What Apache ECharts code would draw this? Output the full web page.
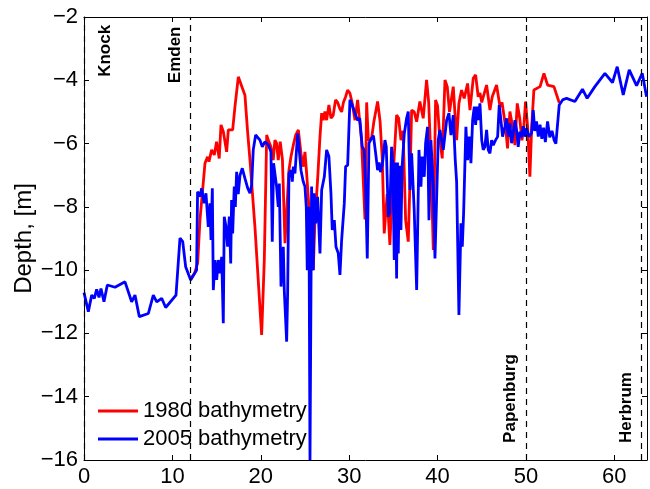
<!DOCTYPE html>
<html>
<head>
<meta charset="utf-8">
<script src="https://cdn.jsdelivr.net/npm/echarts@6/dist/echarts.min.js"></script>
<style>html,body{margin:0;padding:0;background:#fff;}#c{width:650px;height:489px;}</style>
</head>
<body>
<div id="c"></div>
<script>
// distance along river [km] and depth [m]
var dist1980 = [12.0,12.5,12.86,13.12,13.69,13.98,14.14,14.44,14.74,15.0,15.3,15.5,15.76,16.14,16.33,16.82,17.08,17.46,17.65,18.21,18.51,18.78,19.34,20.1,20.4,20.67,20.85,21.15,21.41,21.6,21.79,21.98,22.2,22.45,22.74,23.0,23.19,23.42,23.68,23.95,24.25,24.55,24.8,25.0,25.19,25.4,25.68,25.94,26.13,26.43,26.7,26.89,27.07,27.26,27.45,27.71,27.95,28.2,28.46,28.7,28.95,29.15,29.35,29.6,29.83,30.09,30.35,30.66,30.96,31.14,31.4,31.79,31.98,32.17,32.54,32.8,33.22,33.5,33.75,33.97,34.3,34.61,34.85,35.37,35.6,35.86,36.1,36.39,36.69,36.88,37.07,37.36,37.64,38.0,38.38,38.76,39.0,39.25,39.52,39.78,40.0,40.27,40.53,40.84,41.1,41.35,41.78,42.05,42.16,42.42,42.72,43.02,43.4,43.67,44.04,44.31,44.6,44.8,45.0,45.2,45.55,45.93,46.19,46.68,47.06,47.3,47.7,47.92,48.19,48.45,48.76,49.02,49.3,49.55,49.75,49.96,50.2,50.45,50.65,50.9,51.6,52.04,52.45,53.17,53.77];
var depth1980 = [-10.3,-10.1,-9.78,-8.42,-6.62,-6.42,-6.57,-6.2,-6.36,-5.94,-6.47,-5.41,-5.62,-6.26,-5.57,-5.57,-4.83,-3.89,-3.83,-4.47,-5.62,-6.52,-8.63,-12.05,-9.68,-5.73,-5.89,-6.1,-6.52,-5.89,-5.99,-6.52,-5.94,-6.5,-9.15,-7.8,-6.84,-6.41,-6.05,-5.73,-5.57,-6.31,-6.73,-6.26,-6.94,-7.8,-9.68,-10.0,-8.42,-7.15,-5.78,-5.04,-5.26,-4.99,-5.26,-4.78,-5.2,-5.1,-4.62,-4.7,-4.9,-5.0,-4.7,-4.52,-4.31,-4.41,-4.73,-5.26,-4.62,-4.57,-5.89,-8.4,-4.7,-5.9,-5.83,-5.3,-4.67,-5.3,-6.5,-8.84,-7.6,-9.2,-7.6,-5.1,-5.2,-5.89,-5.6,-8.42,-9.1,-7.2,-4.94,-5.0,-5.31,-4.67,-5.2,-3.99,-4.7,-6.5,-9.36,-4.62,-4.8,-5.89,-6.47,-3.99,-4.2,-5.0,-4.2,-5.4,-5.89,-4.73,-4.31,-4.57,-4.1,-4.94,-3.94,-3.83,-4.52,-4.4,-4.7,-4.5,-4.15,-4.94,-4.52,-4.15,-4.83,-4.7,-5.47,-6.15,-4.99,-5.4,-6.05,-4.73,-5.2,-5.9,-5.5,-4.67,-5.5,-7.05,-5.5,-4.31,-4.2,-3.78,-4.15,-4.2,-4.71];

var dist2005 = [0,0.49,0.87,1.17,1.43,1.7,1.92,2.26,2.64,3.51,4.64,5.39,5.77,6.26,7.28,7.84,8.23,8.79,9.24,10.41,10.86,11.17,11.5,12.07,12.74,12.85,13.12,13.31,13.6,13.8,14.06,14.25,14.37,14.52,14.63,14.82,15.01,15.2,15.38,15.58,15.76,15.87,16.05,16.25,16.44,16.6,16.7,16.82,17.0,17.12,17.27,17.45,17.65,17.91,18.21,18.52,18.78,18.97,19.15,19.42,19.91,20.17,20.48,20.85,21.15,21.3,21.45,21.6,21.79,21.98,22.1,22.29,22.55,22.66,22.93,23.04,23.19,23.42,23.57,23.68,23.87,24.17,24.32,24.55,24.8,25.0,25.15,25.26,25.45,25.57,25.75,25.94,26.05,26.21,26.43,26.7,26.89,27.19,27.45,27.71,27.94,28.09,28.32,28.51,28.77,28.96,29.15,29.45,29.6,29.83,30.09,30.35,30.6,30.95,31.2,31.48,31.7,31.86,32.05,32.24,32.54,32.75,33.0,33.22,33.4,33.55,33.75,34.05,34.2,34.43,34.6,34.8,34.95,35.1,35.22,35.37,35.47,35.56,35.7,35.86,36.0,36.24,36.5,36.69,36.88,37.07,37.36,37.64,37.9,38.12,38.27,38.5,38.65,38.87,39.03,39.25,39.52,39.71,39.9,40.08,40.27,40.65,41.03,41.29,41.52,41.78,42.0,42.16,42.42,42.65,42.8,42.95,43.21,43.4,43.59,43.78,43.97,44.16,44.31,44.46,44.6,44.8,45.0,45.17,45.36,45.55,45.74,45.93,46.12,46.3,46.55,46.8,46.98,47.17,47.36,47.62,47.81,48.0,48.19,48.38,48.56,48.76,48.94,49.13,49.32,49.5,49.7,49.89,50.08,50.34,50.64,50.83,51.0,51.2,51.4,51.6,51.8,52.0,52.2,52.45,52.7,52.95,53.2,53.39,53.77,54.15,54.6,55.54,56.4,56.93,57.8,58.94,59.8,60.33,61.01,61.69,62.52,63.16,63.65];
var depth2005 = [-10.71,-11.31,-10.79,-10.89,-10.61,-10.86,-10.58,-11.0,-10.47,-10.54,-10.37,-11.0,-10.79,-11.47,-11.37,-10.79,-11.0,-10.89,-11.18,-10.79,-8.99,-9.1,-9.89,-10.31,-10.0,-7.52,-7.68,-7.41,-7.89,-7.57,-8.63,-7.89,-9.05,-7.41,-10.63,-9.68,-10.31,-9.68,-10.1,-9.58,-11.68,-8.31,-8.6,-9.26,-8.31,-9.79,-7.78,-8.84,-7.36,-8.0,-6.89,-7.6,-7.0,-6.78,-7.1,-7.41,-7.57,-7.31,-6.2,-5.73,-5.89,-6.1,-5.94,-6.04,-6.26,-9.1,-6.62,-6.62,-7.36,-8.0,-7.26,-10.52,-9.26,-10.63,-12.26,-10.73,-6.94,-6.84,-7.2,-6.73,-6.94,-5.68,-6.1,-6.84,-7.2,-7.36,-8.0,-10.0,-8.0,-16.0,-7.36,-10.0,-7.57,-8.52,-7.68,-9.47,-7.47,-7.05,-6.2,-6.41,-7.57,-8.73,-8.42,-9.26,-9.47,-10.15,-9.05,-7.89,-6.73,-6.68,-4.62,-4.78,-5.0,-5.26,-5.2,-6.1,-6.2,-7.36,-9.63,-5.99,-5.83,-5.75,-6.31,-6.84,-6.6,-6.9,-6.68,-5.89,-6.1,-8.31,-8.2,-6.1,-6.7,-9.68,-6.6,-10.26,-6.6,-9.47,-6.7,-8.73,-6.7,-5.68,-5.2,-4.99,-7.47,-6.31,-8.1,-10.63,-6.2,-7.36,-6.41,-7.05,-5.99,-5.47,-8.42,-5.89,-7.36,-9.63,-9.58,-5.89,-5.57,-6.2,-5.26,-5.04,-5.73,-5.1,-6.5,-7.2,-11.42,-8.52,-9.26,-8.2,-5.47,-6.52,-5.78,-6.62,-5.26,-4.83,-5.41,-4.83,-5.26,-4.73,-5.89,-6.2,-6.1,-5.57,-6.2,-6.31,-5.89,-6.05,-5.9,-5.78,-4.78,-5.26,-5.78,-5.47,-5.2,-5.78,-5.36,-5.99,-5.68,-5.26,-5.57,-6.1,-5.62,-5.8,-5.45,-5.78,-5.52,-5.78,-5.68,-4.94,-5.6,-5.3,-5.78,-5.4,-5.85,-5.5,-5.95,-5.3,-5.8,-5.6,-5.9,-6.0,-4.78,-4.62,-4.57,-4.67,-4.28,-4.57,-4.2,-3.78,-4.07,-3.57,-4.46,-3.67,-4.17,-3.78,-4.52];

var stationNames = ['Knock','Emden','Papenburg','Herbrum'];
var stationKm = [0, 12, 50, 63];
var yTicks = [-16,-14,-12,-10,-8,-6,-4,-2];

function pairs(xs, ys){ var out=[]; for(var i=0;i<xs.length;i++) out.push([xs[i], ys[i]]); return out; }

var FONT = 'Liberation Sans, Arial, Helvetica, sans-serif';
var chart = echarts.init(document.getElementById('c'), null, {renderer:'canvas'});

var labelPos = [[2.4,-2.25,'right'],[10.3,-2.3,'right'],[48.2,-15.46,'left'],[61.4,-15.46,'left']];
var labelData = labelPos.map(function(p,i){
  return {value:[p[0],p[1]], label:{align:p[2]}, name: stationNames[i]};
});

var minusFmt = function(v){ return String(v).replace('-', '\u2212'); };

chart.setOption({
  animation:false,
  backgroundColor:'#fff',
  grid:{left:84, right:3, top:17, bottom:29, containLabel:false, outerBoundsMode:'none'},
  xAxis:[{
    type:'value', min:0, max:63.7, interval:10, position:'bottom',
    axisLine:{show:true, onZero:false, lineStyle:{color:'#000', width:1}},
    axisTick:{show:true, inside:true, length:5, lineStyle:{color:'#000'}},
    axisLabel:{show:true, color:'#000', fontSize:22, fontFamily:FONT, margin:6, showMaxLabel:false},
    splitLine:{show:false}
  },{
    type:'value', min:0, max:63.7, interval:10, position:'top',
    axisLine:{show:true, onZero:false, lineStyle:{color:'#000', width:1}},
    axisTick:{show:true, inside:true, length:5, lineStyle:{color:'#000'}},
    axisLabel:{show:false}, splitLine:{show:false}
  }],
  yAxis:[{
    type:'value', min:-16, max:-2, interval:2, position:'left',
    name:'Depth, [m]', nameLocation:'middle', nameGap:48, nameMoveOverlap:false,
    nameTextStyle:{color:'#000', fontSize:24, fontFamily:FONT},
    axisLine:{show:true, onZero:false, lineStyle:{color:'#000', width:1}},
    axisTick:{show:true, inside:true, length:5, lineStyle:{color:'#000'}},
    axisLabel:{show:true, color:'#000', fontSize:22, fontFamily:FONT, margin:6, formatter:minusFmt},
    splitLine:{show:false}
  },{
    type:'value', min:-16, max:-2, interval:2, position:'right',
    axisLine:{show:true, onZero:false, lineStyle:{color:'#000', width:1}},
    axisTick:{show:true, inside:true, length:5, lineStyle:{color:'#000'}},
    axisLabel:{show:false}, splitLine:{show:false}
  }],
  legend:{
    orient:'vertical', left:98, top:400, padding:0, itemWidth:40, itemHeight:3, itemGap:6,
    icon:'rect', textStyle:{color:'#000', fontSize:22, fontFamily:FONT},
    data:['1980 bathymetry','2005 bathymetry']
  },
  series:[
    {
      name:'stations', type:'line', data:[], xAxisIndex:0, yAxisIndex:0, silent:true,
      markLine:{
        silent:true, symbol:['none','none'], label:{show:false},
        lineStyle:{color:'#000', type:[6,5], width:1.2, opacity:1},
        data: stationKm.map(function(k){ return {xAxis:k}; })
      }
    },
    {
      name:'1980 bathymetry', type:'line', data:pairs(dist1980, depth1980),
      showSymbol:false, symbol:'none', lineStyle:{color:'#ff0000', width:2.8}, itemStyle:{color:'#ff0000'},
      z:3
    },
    {
      name:'2005 bathymetry', type:'line', data:pairs(dist2005, depth2005),
      showSymbol:false, symbol:'none', lineStyle:{color:'#0000ff', width:2.8}, itemStyle:{color:'#0000ff'},
      z:4
    },
    {
      name:'labels', type:'scatter', data:labelData, symbolSize:0, silent:true, z:5,
      itemStyle:{color:'#000', opacity:1},
      label:{show:true, position:[0,0], rotate:90, verticalAlign:'middle',
        color:'#000', opacity:1, textBorderWidth:0, textBorderColor:'transparent',
        fontSize:17, fontWeight:'bold', fontFamily:FONT,
        formatter:function(p){ return p.name; }},
      emphasis:{disabled:true}
    }
  ]
});
</script>
</body>
</html>
